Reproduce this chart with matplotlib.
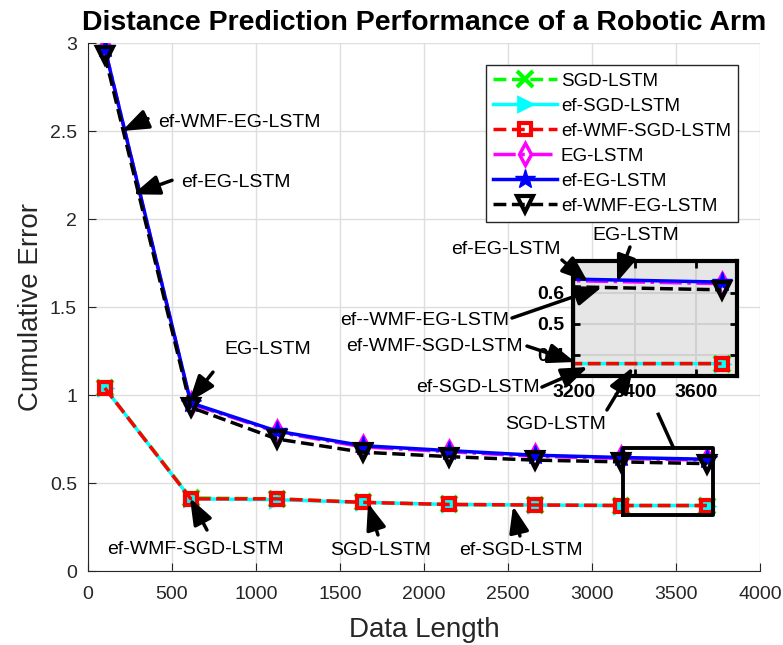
import numpy as np
import matplotlib
matplotlib.use('Agg')
import matplotlib.pyplot as plt

plt.rcParams['font.family'] = ['Liberation Sans', 'DejaVu Sans']

# data
data_length = [100, 612, 1124, 1636, 2148, 2660, 3172, 3684]
sgd_lstm = [1.04, 0.415, 0.41, 0.39, 0.378, 0.375, 0.372, 0.372]
ef_sgd_lstm = [1.04, 0.41, 0.405, 0.39, 0.378, 0.375, 0.372, 0.372]
ef_wmf_sgd_lstm = [1.04, 0.41, 0.41, 0.39, 0.378, 0.375, 0.372, 0.372]
eg_lstm = [2.97, 0.95, 0.79, 0.705, 0.678, 0.652, 0.64, 0.63]
ef_eg_lstm = [2.97, 0.955, 0.795, 0.712, 0.684, 0.658, 0.645, 0.635]
ef_wmf_eg_lstm = [2.93, 0.93, 0.75, 0.675, 0.65, 0.63, 0.62, 0.61]

xticks = [0, 500, 1000, 1500, 2000, 2500, 3000, 3500, 4000]
yticks = [0, 0.5, 1, 1.5, 2, 2.5, 3]
ytick_labels = ['0', '0.5', '1', '1.5', '2', '2.5', '3']
zoom_box = [3185, 3720, 0.32, 0.70]          # x0, x1, y0, y1 of the zoomed region
inset_xlim = [3195, 3735]
inset_ylim = [0.332, 0.703]

series = [
    ('SGD-LSTM', sgd_lstm, dict(color='#00ff00', ls='--', marker='x', ms=11, mew=3)),
    ('ef-SGD-LSTM', ef_sgd_lstm, dict(color='cyan', ls='-', marker='>', ms=10, mew=2)),
    ('ef-WMF-SGD-LSTM', ef_wmf_sgd_lstm, dict(color='red', ls='--', marker='s', ms=9, mew=3, mfc='none')),
    ('EG-LSTM', eg_lstm, dict(color='magenta', ls='-.', marker='d', ms=11, mew=2.5, mfc='none')),
    ('ef-EG-LSTM', ef_eg_lstm, dict(color='blue', ls='-', marker='*', ms=15, mew=1)),
    ('ef-WMF-EG-LSTM', ef_wmf_eg_lstm, dict(color='black', ls='--', marker='v', ms=11, mew=3, mfc='none')),
]

fig = plt.figure(figsize=(7.83, 6.45), dpi=100)
ax = fig.add_axes([88/783, 1 - 571/645, 672/783, 528/645])

for name, vals, st in series:
    ax.plot(data_length, vals, lw=2.5, label=name, **st)

ax.set_xlim(0, 4000)
ax.set_ylim(0, 3)
ax.set_xticks(xticks)
ax.set_yticks(yticks)
ax.set_yticklabels(ytick_labels)
ax.grid(True, color='#dedede', lw=1)
ax.set_axisbelow(True)
for side in ['top', 'right']:
    ax.spines[side].set_visible(False)
for side in ['left', 'bottom']:
    ax.spines[side].set_color('#262626')
ax.tick_params(direction='in', length=6, labelsize=14, colors='#262626', pad=8)
ax.tick_params(axis='x', pad=11)
ax.set_xlabel('Data Length', fontsize=20, color='#262626', labelpad=10)
ax.set_ylabel('Cumulative Error', fontsize=20, color='#262626', labelpad=4)
ax.set_title('Distance Prediction Performance of a Robotic Arm', fontsize=20.5,
             fontweight='bold', pad=9)

leg = ax.legend(loc='upper right', bbox_to_anchor=(0.968, 0.958), fontsize=13.5,
                fancybox=False, framealpha=1, edgecolor='#262626',
                handlelength=3.4, labelspacing=0.42, borderpad=0.4,
                handletextpad=0.2, borderaxespad=0)
leg.get_frame().set_linewidth(1)

# zoom rectangle and connector
x0, x1, y0, y1 = zoom_box
ax.plot([x0, x1, x1, x0, x0], [y0, y0, y1, y1, y0], color='k', lw=2.8)
ax.plot([3395, 3485], [0.89, y1], color='k', lw=2.5)

# inset
ax_in = fig.add_axes([573/783, 1 - 376/645, 164/783, 115/645])
for name, vals, st in series:
    ax_in.plot(data_length, vals, lw=2.5, **st)
ax_in.set_xlim(inset_xlim)
ax_in.set_ylim(inset_ylim)
ax_in.set_xticks([3200, 3400, 3600])
ax_in.set_yticks([0.4, 0.5, 0.6])
ax_in.set_facecolor('#e6e6e6')
ax_in.grid(True, color='#d0d0d0', lw=1.5)
ax_in.set_axisbelow(True)
for sp in ax_in.spines.values():
    sp.set_linewidth(3)
ax_in.tick_params(direction='in', length=5, width=2, labelsize=14, pad=6,
                  top=True, right=True)
for lbl in ax_in.get_xticklabels() + ax_in.get_yticklabels():
    lbl.set_fontweight('bold')

arrow_style = dict(arrowstyle='-|>,head_length=0.8,head_width=0.3', lw=2.5,
                   color='k', mutation_scale=20, shrinkA=0, shrinkB=0)


def text_arrow(host, label, txt, tail, head, ha='center'):
    host.annotate('', xy=head, xytext=tail, xycoords=ax.transData,
                  textcoords=ax.transData, arrowprops=arrow_style,
                  annotation_clip=False)
    host.text(txt[0], txt[1], label, transform=ax.transData, ha=ha, va='center',
              fontsize=14, clip_on=False)


# annotations in the main plot
text_arrow(ax, 'ef-WMF-EG-LSTM', (417, 2.55), (357, 2.57), (202, 2.50), ha='left')
text_arrow(ax, 'ef-EG-LSTM', (554, 2.21), (500, 2.22), (268, 2.14), ha='left')
text_arrow(ax, 'EG-LSTM', (810, 1.256), (744, 1.13), (601, 0.96), ha='left')
text_arrow(ax, 'ef-WMF-SGD-LSTM', (637, 0.125), (708, 0.233), (607, 0.415))
text_arrow(ax, 'SGD-LSTM', (1744, 0.114), (1726, 0.205), (1667, 0.386))
text_arrow(ax, 'ef-SGD-LSTM', (2577, 0.114), (2571, 0.199), (2530, 0.369))

# annotations around the inset (drawn above it)
text_arrow(ax_in, 'ef-EG-LSTM', (2488, 1.824), (2821, 1.767), (2976, 1.642))
text_arrow(ax_in, 'EG-LSTM', (3262, 1.909), (3226, 1.841), (3149, 1.642))
text_arrow(ax_in, 'ef--WMF-EG-LSTM', (2006, 1.426), (2524, 1.4375), (3060, 1.614))
text_arrow(ax_in, 'ef-WMF-SGD-LSTM', (2065, 1.278), (2613, 1.278), (2899, 1.1875))
text_arrow(ax_in, 'ef-SGD-LSTM', (2321, 1.04), (2702, 1.045), (2976, 1.159))
text_arrow(ax_in, 'SGD-LSTM', (2786, 0.83), (3089, 0.915), (3244, 1.159))

fig.savefig('out.png', dpi=100)
